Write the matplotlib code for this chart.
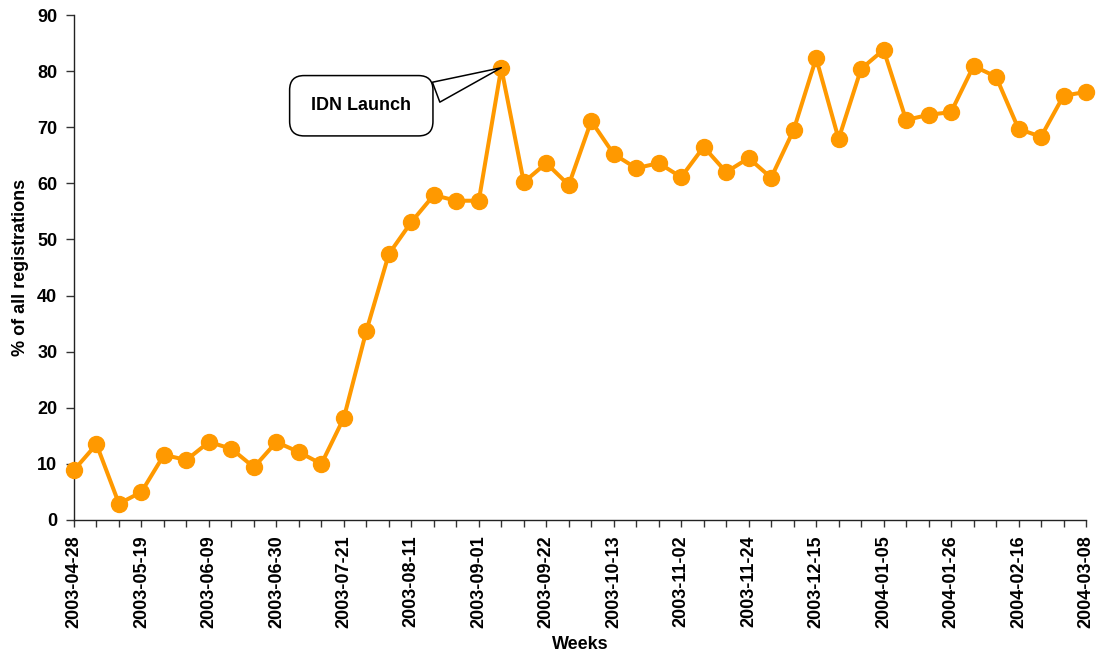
import matplotlib
matplotlib.use("Agg")
import matplotlib.pyplot as plt

plt.rcParams['font.family'] = ['Liberation Sans', 'DejaVu Sans']
plt.rcParams['font.weight'] = 'bold'

# Weekly share of registrations (%), 2003-04-28 .. 2004-03-08
share = [8.9, 13.5, 2.9, 5.0, 11.6, 10.7, 13.9, 12.7, 9.4, 13.9,
         12.1, 10.0, 18.2, 33.7, 47.4, 53.1, 57.9, 56.9, 56.9, 80.6,
         60.2, 63.6, 59.7, 71.1, 65.2, 62.7, 63.6, 61.1, 66.5, 62.0,
         64.5, 61.0, 69.5, 82.3, 67.9, 80.4, 83.8, 71.3, 72.2, 72.7,
         80.9, 79.0, 69.7, 68.3, 75.6, 76.3]

week_labels = ["2003-04-28", "2003-05-19", "2003-06-09", "2003-06-30",
               "2003-07-21", "2003-08-11", "2003-09-01", "2003-09-22",
               "2003-10-13", "2003-11-02", "2003-11-24", "2003-12-15",
               "2004-01-05", "2004-01-26", "2004-02-16", "2004-03-08"]
label_step = 3

launch_week = 19
launch_text = "IDN Launch"

orange = "#FF9900"
fs = 13

fig = plt.figure(figsize=(10.97, 6.64), dpi=100)
ax = fig.add_axes([74 / 1097, 144 / 664, (1086 - 74) / 1097, (520 - 15) / 664])

x = list(range(len(share)))
ax.plot(x, share, color=orange, lw=2.9, marker='o', markersize=11.5,
        clip_on=False, zorder=3)

ax.set_xlim(0, len(share) - 1)
ax.set_ylim(0, 90)
ax.set_yticks(range(0, 91, 10))
ax.set_xticks(x, minor=True)
ax.set_xticks(x[::label_step])
ax.set_xticklabels(week_labels, rotation=90, fontsize=fs, fontweight='bold')
for lab in ax.get_yticklabels():
    lab.set_fontsize(fs)
    lab.set_fontweight('bold')

ax.tick_params(axis='x', which='both', direction='out', length=5, width=1,
               color='#333333', pad=6)
ax.tick_params(axis='y', direction='out', length=6, width=1,
               color='#333333', pad=6)

for side in ('top', 'right'):
    ax.spines[side].set_visible(False)
for side in ('left', 'bottom'):
    ax.spines[side].set_linewidth(1)
    ax.spines[side].set_color('#222222')

ax.set_xlabel("Weeks", fontsize=fs, fontweight='bold', labelpad=6)
ax.set_ylabel("% of all registrations", fontsize=fs, fontweight='bold',
              labelpad=6)

ax.annotate(launch_text, xy=(launch_week, share[launch_week]),
            xytext=(-140, -38), textcoords='offset pixels',
            ha='center', va='center', fontsize=13, fontweight='bold',
            bbox=dict(boxstyle='round,pad=1.2,rounding_size=0.8',
                      fc='white', ec='black', lw=1.1),
            arrowprops=dict(arrowstyle='wedge,tail_width=0.85,shrink_factor=0.5',
                            fc='white', ec='black', lw=1.1, relpos=(1.0, 0.75),
                            mutation_scale=18, shrinkB=0),
            zorder=4)

fig.savefig("out.png", dpi=100)
